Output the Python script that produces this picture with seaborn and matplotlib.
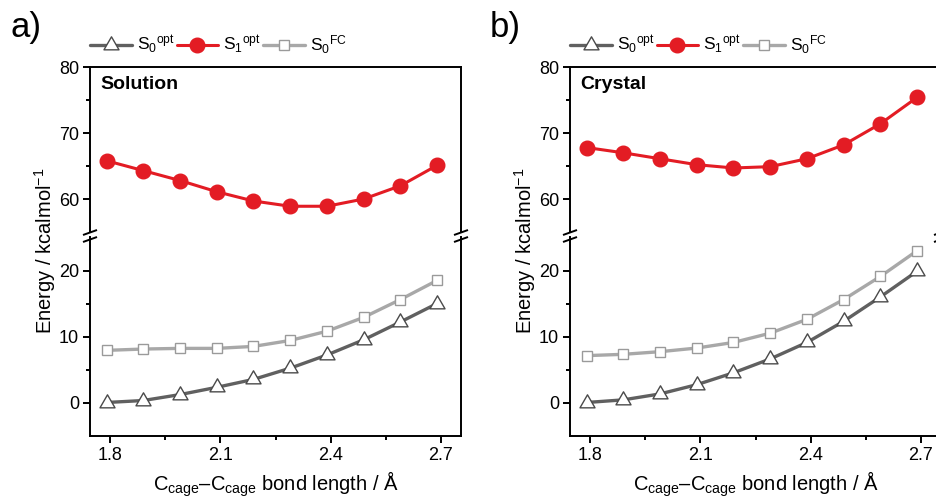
import matplotlib
matplotlib.use("Agg")
import matplotlib.pyplot as plt
import seaborn as sns
from matplotlib.lines import Line2D
from matplotlib.path import Path

# bond length (Angstrom) of each computed point
bond = [1.79, 1.89, 1.99, 2.09, 2.19, 2.29, 2.39, 2.49, 2.59, 2.69]

# panel a) Solution
sol_s0_opt = [0.0, 0.3, 1.2, 2.3, 3.5, 5.2, 7.2, 9.5, 12.2, 15.0]
sol_s1_opt = [65.8, 64.3, 62.8, 61.1, 59.7, 58.9, 58.9, 60.0, 62.0, 65.1]
sol_s0_fc = [7.9, 8.1, 8.2, 8.2, 8.5, 9.4, 10.8, 12.9, 15.6, 18.5]

# panel b) Crystal
cry_s0_opt = [0.0, 0.4, 1.3, 2.7, 4.5, 6.6, 9.1, 12.3, 16.0, 19.9]
cry_s1_opt = [67.8, 67.0, 66.1, 65.2, 64.7, 64.9, 66.1, 68.2, 71.4, 75.4]
cry_s0_fc = [7.1, 7.3, 7.7, 8.25, 9.1, 10.5, 12.6, 15.6, 19.1, 23.0]

panels = [
    ("a)", "Solution", sol_s0_opt, sol_s1_opt, sol_s0_fc),
    ("b)", "Crystal", cry_s0_opt, cry_s1_opt, cry_s0_fc),
]
legend_labels = [r"S$_0$$^{\mathrm{opt}}$", r"S$_1$$^{\mathrm{opt}}$", r"S$_0$$^{\mathrm{FC}}$"]

sns.set_style("ticks")
plt.rcParams["font.family"] = ["Liberation Sans", "DejaVu Sans"]
plt.rcParams["mathtext.fontset"] = "custom"
plt.rcParams["mathtext.rm"] = "Liberation Sans"
plt.rcParams["mathtext.it"] = "Liberation Sans:italic"
plt.rcParams["mathtext.bf"] = "Liberation Sans:bold"
for key in ["text.color", "axes.labelcolor", "xtick.color", "ytick.color", "axes.edgecolor"]:
    plt.rcParams[key] = "black"

RED = "#e31c24"
DARK = "#606060"
DARK_EDGE = "#4a4a4a"
LIGHT = "#a8a8a8"
LIGHT_EDGE = "#9a9a9a"
SPINE_W = 1.4

# equilateral triangle centred on its centroid
tri = Path([(0, 1.155), (-1, -0.577), (1, -0.577), (0, 0)],
           [Path.MOVETO, Path.LINETO, Path.LINETO, Path.CLOSEPOLY])

s0_style = dict(color=DARK, lw=2.4, marker=tri, ms=12.5, mfc="white", mec=DARK_EDGE, mew=1.0)
s1_style = dict(color=RED, lw=2.2, marker="o", ms=10.5, mfc=RED, mec=RED, mew=1.0)
fc_style = dict(color=LIGHT, lw=2.4, marker="s", ms=7.7, mfc="white", mec=LIGHT_EDGE, mew=1.0)

W, H = 936, 498
fig = plt.figure(figsize=(W / 100, H / 100), dpi=100)

lefts = [90, 570]
ax_w = 371
xlim = (1.745, 2.755)


def style_axis(ax):
    for s in ax.spines.values():
        s.set_linewidth(SPINE_W)
        s.set_color("black")
    ax.tick_params(which="major", direction="out", length=5, width=SPINE_W,
                   labelsize=13, pad=3, color="black", labelcolor="black")
    ax.tick_params(which="minor", direction="out", length=3, width=SPINE_W, color="black")
    ax.set_xlim(*xlim)


for left, (tag, title, s0, s1, fc) in zip(lefts, panels):
    ax_top = fig.add_axes([left / W, 266 / H, ax_w / W, 165 / H])
    ax_bot = fig.add_axes([left / W, 62.5 / H, ax_w / W, 198 / H])

    sns.lineplot(x=bond, y=s1, ax=ax_top, legend=False, **s1_style)
    sns.lineplot(x=bond, y=fc, ax=ax_bot, legend=False, **fc_style)
    sns.lineplot(x=bond, y=s0, ax=ax_bot, legend=False, **s0_style)

    style_axis(ax_top)
    style_axis(ax_bot)

    ax_top.set_ylim(55, 80)
    ax_top.set_yticks([60, 70, 80])
    ax_top.set_yticks([65, 75], minor=True)
    ax_top.set_xticks([])
    ax_top.spines["bottom"].set_visible(False)
    ax_top.set_xlabel("")
    ax_top.set_ylabel("")

    ax_bot.set_ylim(-5, 25)
    ax_bot.set_yticks([0, 10, 20])
    ax_bot.set_yticks([5, 15], minor=True)
    ax_bot.set_xticks([1.8, 2.1, 2.4, 2.7])
    ax_bot.set_xticks([1.95, 2.25, 2.55], minor=True)
    ax_bot.set_xticklabels(["1.8", "2.1", "2.4", "2.7"])
    ax_bot.spines["top"].set_visible(False)
    ax_bot.set_ylabel("")
    ax_bot.set_xlabel(r"C$_{\mathrm{cage}}$–C$_{\mathrm{cage}}$ bond length / Å",
                      fontsize=14.5, labelpad=4)

    ax_top.text(0.027, 0.945, title, transform=ax_top.transAxes, fontsize=14,
                fontweight="bold", ha="left", va="top")

    # axis break marks on both side spines
    for xp in (left, left + ax_w):
        for yc in (265.5, 258.5):
            fig.add_artist(Line2D([(xp - 7) / W, (xp + 7) / W],
                                  [(yc - 2.5) / H, (yc + 2.5) / H],
                                  transform=fig.transFigure, color="black",
                                  lw=SPINE_W, solid_capstyle="butt"))

    handles = [Line2D([], [], **s0_style), Line2D([], [], **s1_style),
               Line2D([], [], **fc_style)]
    ax_top.legend(handles, legend_labels, loc="center left",
                  bbox_to_anchor=(0.0, 1.135), ncol=3, frameon=False,
                  fontsize=12.5, handlelength=2.4, handletextpad=0.3,
                  columnspacing=0.1, borderaxespad=0, borderpad=0)

    fig.text((left - 45) / W, 1 - 251 / H, r"Energy / kcalmol$^{-1}$", rotation=90,
             ha="center", va="center", fontsize=14.5)
    fig.text((left - 80) / W, 1 - 28 / H, tag, ha="left", va="center", fontsize=25)

fig.savefig("out.png", dpi=100)
